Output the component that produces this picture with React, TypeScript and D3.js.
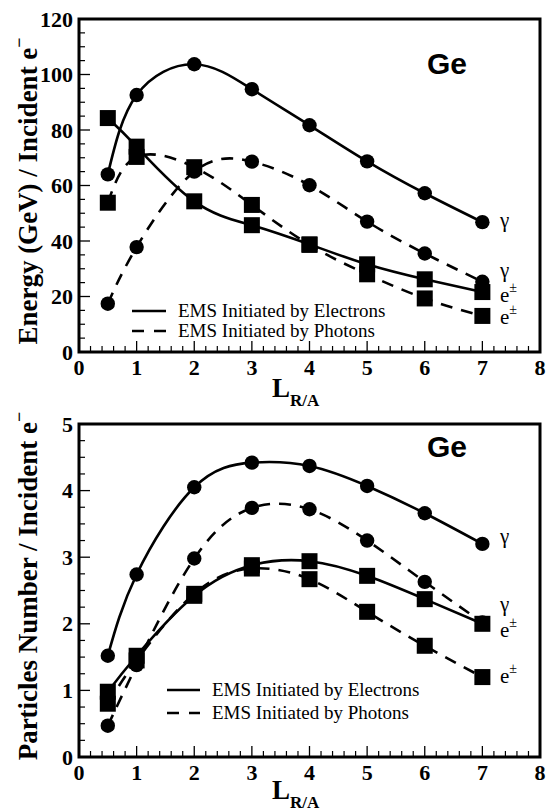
import React from 'react';
import * as d3 from 'd3';

const W = 547;
const H = 812;

// Shared x positions (L_R/A)
const xValues = [0.5, 1, 2, 3, 4, 5, 6, 7];
const xTicks = [0, 1, 2, 3, 4, 5, 6, 7, 8];

// Top panel: Energy (GeV) / incident e-
const energyTicks = [0, 20, 40, 60, 80, 100, 120];
const energyGammaElectron = [64, 92.6, 103.7, 94.7, 81.7, 68.7, 57.2, 46.8];
const energyPairElectron = [84.3, 74, 54.3, 45.7, 38.8, 31.6, 26.2, 21.6];
const energyGammaPhoton = [17.4, 37.8, 65, 68.6, 60.1, 47, 35.5, 25.3];
const energyPairPhoton = [53.8, 70.3, 66.6, 53, 38.6, 28, 19.3, 13];

// Bottom panel: particles number / incident e-
const numberTicks = [0, 1, 2, 3, 4, 5];
const numGammaElectron = [1.52, 2.74, 4.05, 4.42, 4.37, 4.07, 3.66, 3.2];
const numPairElectron = [0.98, 1.52, 2.42, 2.88, 2.94, 2.72, 2.37, 2.0];
const numGammaPhoton = [0.47, 1.38, 2.98, 3.74, 3.72, 3.25, 2.63, 2.02];
const numPairPhoton = [0.8, 1.45, 2.45, 2.83, 2.67, 2.18, 1.67, 1.2];

const legendLabels = ['EMS Initiated by Electrons', 'EMS Initiated by Photons'];

const SERIF = 'Liberation Serif, serif';
const SANS = 'Liberation Sans, Arial, sans-serif';
const DASH = '12,9';

type Series = { values: number[]; marker: 'circle' | 'square'; dashed: boolean };

type PanelProps = {
  top: number;
  bottom: number;
  yMax: number;
  yTicks: number[];
  yMinor: number;
  series: Series[];
  yLabel: string;
  labelCenterY: number;
  legend: { x1: number; x2: number; textX: number; y1: number; y2: number };
  rightLabels: { kind: 'g' | 'e'; y: number }[];
  geBaseline: number;
  titleBaseline: number;
};

function Panel(p: PanelProps) {
  const left = 79;
  const right = 540;
  const x = d3.scaleLinear().domain([0, 8]).range([left, right]);
  const y = d3.scaleLinear().domain([0, p.yMax]).range([p.bottom, p.top]);
  const line = d3
    .line<number>()
    .x((_, i) => x(xValues[i]))
    .y((d) => y(d))
    .curve(d3.curveNatural);

  const xMinor = d3.range(0, 8.0001, 0.2).filter((v) => Math.abs(v - Math.round(v)) > 1e-6);
  const yMinor = d3
    .range(0, p.yMax + 1e-6, p.yMinor)
    .filter((v) => !p.yTicks.some((t) => Math.abs(t - v) < 1e-6));

  return (
    <g>
      {/* ticks */}
      {xTicks.map((t) => (
        <line key={'xt' + t} x1={x(t)} x2={x(t)} y1={p.bottom} y2={p.bottom - 11} stroke="#000" strokeWidth={1.3} />
      ))}
      {xMinor.map((t, i) => (
        <line key={'xm' + i} x1={x(t)} x2={x(t)} y1={p.bottom} y2={p.bottom - 6} stroke="#000" strokeWidth={1.2} />
      ))}
      {p.yTicks.map((t) => (
        <line key={'yt' + t} x1={left} x2={left + 11} y1={y(t)} y2={y(t)} stroke="#000" strokeWidth={1.3} />
      ))}
      {yMinor.map((t, i) => (
        <line key={'ym' + i} x1={left} x2={left + 6} y1={y(t)} y2={y(t)} stroke="#000" strokeWidth={1.2} />
      ))}
      {/* lines */}
      {p.series.map((s, i) => (
        <path
          key={'l' + i}
          d={line(s.values) || ''}
          fill="none"
          stroke="#000"
          strokeWidth={2.6}
          strokeDasharray={s.dashed ? DASH : undefined}
        />
      ))}
      {/* markers */}
      {p.series.map((s, i) =>
        s.values.map((v, j) =>
          s.marker === 'circle' ? (
            <circle key={'m' + i + '-' + j} cx={x(xValues[j])} cy={y(v)} r={7.2} fill="#000" />
          ) : (
            <rect key={'m' + i + '-' + j} x={x(xValues[j]) - 8} y={y(v) - 8} width={16} height={16} fill="#000" />
          )
        )
      )}
      {/* frame */}
      <rect x={left} y={p.top} width={right - left} height={p.bottom - p.top} fill="none" stroke="#000" strokeWidth={3} />
      {/* tick labels */}
      {xTicks.map((t) => (
        <text
          key={'xl' + t}
          x={x(t)}
          y={p.bottom + 23}
          textAnchor="middle"
          style={{ fontFamily: SERIF, fontWeight: 700, fontSize: 22 }}
        >
          {t}
        </text>
      ))}
      {p.yTicks.map((t) => (
        <text
          key={'yl' + t}
          x={73}
          y={y(t) + 7.5}
          textAnchor="end"
          style={{ fontFamily: SERIF, fontWeight: 700, fontSize: 22 }}
        >
          {t}
        </text>
      ))}
      {/* axis titles */}
      <text
        transform={`translate(37,${p.labelCenterY}) rotate(-90)`}
        textAnchor="middle"
        style={{ fontFamily: SERIF, fontWeight: 700, fontSize: 27 }}
      >
        {p.yLabel}
        <tspan dy={-12} style={{ fontSize: 18 }}>
          −
        </tspan>
      </text>
      <text x={272} y={p.titleBaseline} style={{ fontFamily: SERIF, fontWeight: 700, fontSize: 27 }}>
        L
        <tspan dy={9} style={{ fontSize: 17 }}>
          R/A
        </tspan>
      </text>
      {/* Ge */}
      <text x={427} y={p.geBaseline} style={{ fontFamily: SANS, fontWeight: 700, fontSize: 30 }}>
        Ge
      </text>
      {/* legend */}
      <line x1={p.legend.x1} x2={p.legend.x2} y1={p.legend.y1} y2={p.legend.y1} stroke="#000" strokeWidth={2.6} />
      <line
        x1={p.legend.x1}
        x2={p.legend.x2}
        y1={p.legend.y2}
        y2={p.legend.y2}
        stroke="#000"
        strokeWidth={2.6}
        strokeDasharray="12,10"
      />
      <text x={p.legend.textX} y={p.legend.y1 + 6} style={{ fontFamily: SERIF, fontSize: 19 }}>
        {legendLabels[0]}
      </text>
      <text x={p.legend.textX} y={p.legend.y2 + 6} style={{ fontFamily: SERIF, fontSize: 19 }}>
        {legendLabels[1]}
      </text>
      {/* series labels */}
      {p.rightLabels.map((l, i) =>
        l.kind === 'g' ? (
          <text key={'rl' + i} x={500} y={l.y} style={{ fontFamily: SERIF, fontSize: 21 }}>
            γ
          </text>
        ) : (
          <text key={'rl' + i} x={500} y={l.y} style={{ fontFamily: SERIF, fontSize: 21 }}>
            e
            <tspan dy={-10} style={{ fontSize: 14 }}>
              ±
            </tspan>
          </text>
        )
      )}
    </g>
  );
}

export default function App() {
  return (
    <svg
      width={W}
      height={H}
      viewBox={`0 0 ${W} ${H}`}
      style={{ position: 'absolute', left: 0, top: 0, background: '#fff' }}
    >
      <rect x={0} y={0} width={W} height={H} fill="#fff" />
      <Panel
        top={19}
        bottom={352}
        yMax={120}
        yTicks={energyTicks}
        yMinor={5}
        series={[
          { values: energyGammaElectron, marker: 'circle', dashed: false },
          { values: energyPairElectron, marker: 'square', dashed: false },
          { values: energyGammaPhoton, marker: 'circle', dashed: true },
          { values: energyPairPhoton, marker: 'square', dashed: true },
        ]}
        yLabel="Energy (GeV) / Incident e"
        labelCenterY={191}
        legend={{ x1: 132, x2: 166, textX: 178, y1: 311, y2: 331 }}
        rightLabels={[
          { kind: 'g', y: 227 },
          { kind: 'g', y: 277 },
          { kind: 'e', y: 302 },
          { kind: 'e', y: 324 },
        ]}
        geBaseline={74}
        titleBaseline={397}
      />
      <Panel
        top={424}
        bottom={757}
        yMax={5}
        yTicks={numberTicks}
        yMinor={0.25}
        series={[
          { values: numGammaElectron, marker: 'circle', dashed: false },
          { values: numPairElectron, marker: 'square', dashed: false },
          { values: numGammaPhoton, marker: 'circle', dashed: true },
          { values: numPairPhoton, marker: 'square', dashed: true },
        ]}
        yLabel="Particles Number / Incident e"
        labelCenterY={586}
        legend={{ x1: 167, x2: 200, textX: 212, y1: 690, y2: 713 }}
        rightLabels={[
          { kind: 'g', y: 543 },
          { kind: 'g', y: 611 },
          { kind: 'e', y: 637 },
          { kind: 'e', y: 683 },
        ]}
        geBaseline={457}
        titleBaseline={799}
      />
    </svg>
  );
}
